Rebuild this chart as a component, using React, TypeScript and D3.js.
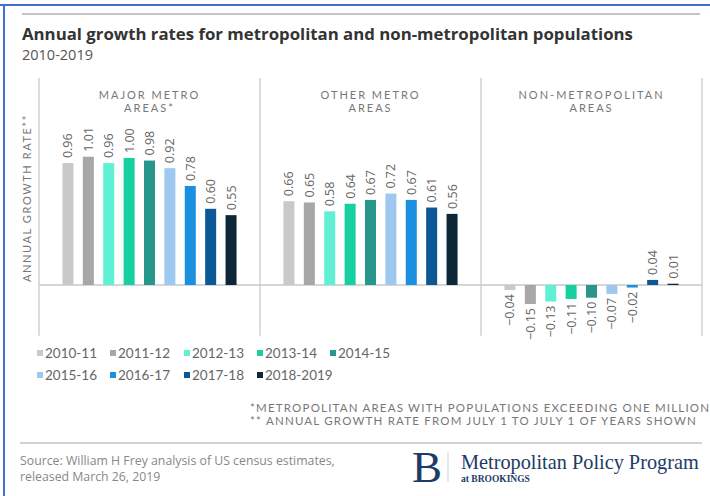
import React from 'react';
import * as d3 from 'd3';

const periods = ['2010-11', '2011-12', '2012-13', '2013-14', '2014-15', '2015-16', '2016-17', '2017-18', '2018-2019'];
const periodColors = ['#c9c9c9', '#a7a7a7', '#60f0d4', '#17d0a1', '#26978a', '#9dc8f0', '#1b8fe0', '#0c5795', '#0d2738'];
const panelTitles = [['MAJOR METRO', 'AREAS*'], ['OTHER METRO', 'AREAS'], ['NON-METROPOLITAN', 'AREAS']];
const majorValues = [0.96, 1.01, 0.96, 1.0, 0.98, 0.92, 0.78, 0.6, 0.55];
const otherValues = [0.66, 0.65, 0.58, 0.64, 0.67, 0.72, 0.67, 0.61, 0.56];
const nonMetroValues = [-0.04, -0.15, -0.13, -0.11, -0.1, -0.07, -0.02, 0.04, 0.01];
const panelValues = [majorValues, otherValues, nonMetroValues];

const title = 'Annual growth rates for metropolitan and non-metropolitan populations';
const subtitle = '2010-2019';
const yAxisTitle = 'ANNUAL GROWTH RATE**';
const footnotes = ['*METROPOLITAN AREAS WITH POPULATIONS EXCEEDING ONE MILLION', '** ANNUAL GROWTH RATE FROM JULY 1 TO JULY 1 OF YEARS SHOWN'];
const sourceLines = ['Source: William H Frey analysis of US census estimates,', 'released March 26, 2019'];

const W = 710;
const H = 496;
const SANS = 'Lato, "Open Sans", sans-serif';
const WIDE = '"Open Sans", Lato, sans-serif';
const SERIF = '"Liberation Serif", "DejaVu Serif", serif';

export default function App() {
  const panelX = d3.scaleBand<number>().domain([0, 1, 2]).range([39, 702]).padding(0);
  const barX = d3.scaleBand<string>().domain(periods).range([0, panelX.bandwidth()]).paddingInner(0.46).paddingOuter(1.15);
  const y = d3.scaleLinear().domain([-0.4, 1.63]).range([335.8, 78]);
  const fmt = d3.format('.2f');
  const legendCols = [37, 110, 184, 257, 330];
  const legendRows = [353, 375];

  return (
    <svg width={W} height={H} style={{ position: 'absolute', left: 0, top: 0, background: '#fff' }} fontFamily={SANS}>
      <rect x={0} y={0} width={W} height={H} fill="#fff" />
      {/* frame edges */}
      <line x1={0} x2={W} y1={5} y2={5} stroke="#3f6fd1" strokeWidth={2} />
      <line x1={4} x2={4} y1={4} y2={H} stroke="#3f6fd1" strokeWidth={2} />
      <line x1={22} x2={700} y1={14} y2={14} stroke="#c4c4c4" strokeWidth={2} />

      <text x={22} y={40} fontFamily={WIDE} fontSize={16.8} fontWeight={700} fill="#333">{title}</text>
      <text x={22} y={60} fontFamily={WIDE} fontSize={14.5} fill="#555">{subtitle}</text>

      {/* panel dividers */}
      {[0, 1, 2].map((i) => (
        <line key={'v' + i} x1={panelX(i)} x2={panelX(i)} y1={y(1.63)} y2={y(-0.4)} stroke="#d2d2d2" strokeWidth={1.5} />
      ))}
      <line x1={702} x2={702} y1={y(1.63)} y2={y(-0.4)} stroke="#d2d2d2" strokeWidth={1.5} />
      <line x1={39} x2={702} y1={y(0)} y2={y(0)} stroke="#c8c8c8" strokeWidth={1.5} />

      <text transform={`translate(27,${198}) rotate(-90)`} textAnchor="middle" dy="0.35em" fontSize={11} letterSpacing={1.6} fill="#777">
        {yAxisTitle}
      </text>

      {panelValues.map((vals, pi) => {
        const px = panelX(pi) as number;
        const cx = px + panelX.bandwidth() / 2;
        return (
          <g key={'p' + pi}>
            {panelTitles[pi].map((t, li) => (
              <text key={li} x={cx} y={99 + li * 13} textAnchor="middle" fontSize={11} letterSpacing={2} fill="#777">{t}</text>
            ))}
            {vals.map((v, bi) => {
              const bx = px + (barX(periods[bi]) as number);
              const bw = barX.bandwidth();
              const top = y(Math.max(0, v));
              const bottom = y(Math.min(0, v));
              const lx = bx + bw / 2;
              const ly = v >= 0 ? top - 5 : bottom + 4;
              return (
                <g key={bi}>
                  <rect x={bx} y={top} width={bw} height={Math.max(0.5, bottom - top)} fill={periodColors[bi]} />
                  <text
                    transform={`translate(${lx},${ly}) rotate(-90)`}
                    textAnchor={v >= 0 ? 'start' : 'end'}
                    dy="0.36em"
                    fontFamily={WIDE}
                    fontSize={12.5}
                    fill="#666"
                  >
                    {fmt(v)}
                  </text>
                </g>
              );
            })}
          </g>
        );
      })}

      {/* legend */}
      {periods.map((p, i) => {
        const col = i < 5 ? i : i - 5;
        const row = i < 5 ? 0 : 1;
        const lx = legendCols[col];
        const ly = legendRows[row];
        return (
          <g key={'l' + i}>
            <rect x={lx} y={ly - 3} width={6} height={6} fill={periodColors[i]} />
            <text x={lx + 8} y={ly} dy="0.36em" fontSize={13.5} fill="#666">{p}</text>
          </g>
        );
      })}

      {footnotes.map((f, i) => (
        <text key={'f' + i} x={250} y={412 + i * 13} fontSize={11.5} letterSpacing={1.2} fill="#777">{f}</text>
      ))}

      <line x1={20} x2={702} y1={443} y2={443} stroke="#c4c4c4" strokeWidth={1.5} />

      {sourceLines.map((s, i) => (
        <text key={'s' + i} x={20} y={465 + i * 15.5} fontFamily={WIDE} fontSize={12.3} fill="#888">{s}</text>
      ))}

      {/* Brookings logo */}
      <text x={412} y={482} fontFamily={SERIF} fontSize={45} fill="#1d3b66">B</text>
      <line x1={448} x2={448} y1={452} y2={482} stroke="#cfcfcf" strokeWidth={1} />
      <text x={461} y={469} fontFamily={SERIF} fontSize={20.3} fill="#1d3b66">Metropolitan Policy Program</text>
      <text x={461} y={482} fontFamily={SERIF} fontSize={9.5} fontWeight={700} fill="#1d3b66">at BROOKINGS</text>
    </svg>
  );
}
